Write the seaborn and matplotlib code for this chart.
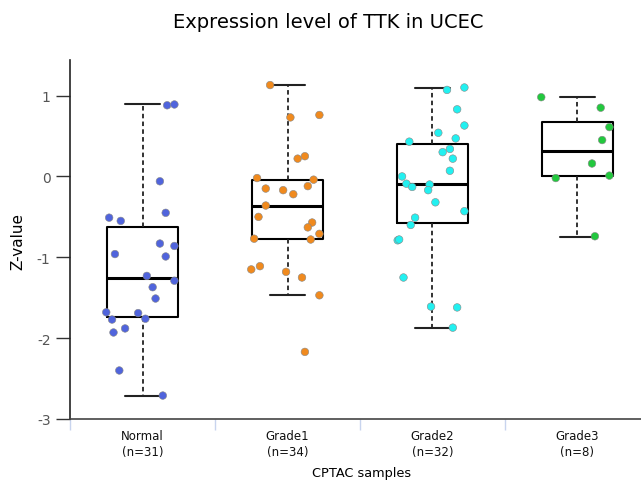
import matplotlib
matplotlib.use("Agg")
import matplotlib.pyplot as plt
import numpy as np
import pandas as pd
import seaborn as sns

# groups and labels
groups = ["Normal", "Grade1", "Grade2", "Grade3"]
group_counts = [31, 34, 32, 8]
group_colors = ["#5064dc", "#f08a1e", "#22f0f0", "#22c83e"]

# box statistics
box_q1 = [-1.74, -0.78, -0.58, 0.00]
box_median = [-1.26, -0.37, -0.09, 0.31]
box_q3 = [-0.62, -0.04, 0.40, 0.67]
box_low = [-2.72, -1.47, -1.87, -0.745]
box_high = [0.90, 1.135, 1.09, 0.98]

# visible sample points (jitter offset in category units, value)
normal_dx = [0.17, 0.22, 0.12, 0.16, -0.23, -0.15, 0.12, 0.22, -0.19, 0.16,
             0.03, 0.22, 0.07, 0.09, -0.25, -0.03, -0.21, 0.02, -0.12, -0.20,
             -0.16, 0.14]
normal_z = [0.88, 0.89, -0.06, -0.45, -0.51, -0.55, -0.83, -0.86, -0.96, -0.99,
            -1.23, -1.29, -1.37, -1.51, -1.68, -1.69, -1.77, -1.76, -1.88, -1.93,
            -2.40, -2.71]

grade1_dx = [-0.12, 0.02, 0.22, 0.07, 0.12, -0.21, 0.18, -0.15, -0.03, 0.04,
             0.14, -0.15, -0.20, 0.17, 0.14, 0.22, -0.23, 0.16, -0.25, -0.19,
             -0.01, 0.10, 0.22, 0.12]
grade1_z = [1.13, 0.73, 0.76, 0.22, 0.25, -0.02, -0.04, -0.15, -0.17, -0.22,
            -0.12, -0.36, -0.50, -0.57, -0.63, -0.71, -0.77, -0.78, -1.15, -1.11,
            -1.18, -1.25, -1.47, -2.17]

grade2_dx = [0.10, 0.22, 0.17, 0.22, 0.04, 0.16, -0.16, 0.12, 0.07, 0.14,
             0.12, -0.21, -0.18, -0.14, -0.02, -0.03, 0.02, 0.22, -0.12, -0.15,
             -0.24, -0.23, -0.20, -0.01, 0.17, 0.14]
grade2_z = [1.07, 1.10, 0.83, 0.63, 0.54, 0.47, 0.43, 0.34, 0.30, 0.22,
            0.07, 0.00, -0.09, -0.13, -0.10, -0.17, -0.32, -0.43, -0.51, -0.60,
            -0.79, -0.78, -1.25, -1.61, -1.62, -1.87]

grade3_dx = [-0.25, 0.16, 0.22, 0.17, 0.10, -0.15, 0.22, 0.12]
grade3_z = [0.98, 0.85, 0.61, 0.45, 0.16, -0.02, 0.01, -0.74]

frames = []
for name, dx, z in [("Normal", normal_dx, normal_z), ("Grade1", grade1_dx, grade1_z),
                    ("Grade2", grade2_dx, grade2_z), ("Grade3", grade3_dx, grade3_z)]:
    frames.append(pd.DataFrame({"group": name,
                                "pos": groups.index(name) + np.array(dx),
                                "z": z}))
df = pd.concat(frames, ignore_index=True)

sns.set_style("white")
plt.rcParams["font.family"] = ["DejaVu Sans"]
plt.rcParams["text.color"] = "black"

fig = plt.figure(figsize=(6.41, 4.81), dpi=100)
ax = fig.add_axes([70 / 641, 61 / 481, 580 / 641, 359 / 481])

stats = []
for i, g in enumerate(groups):
    stats.append({"med": box_median[i], "q1": box_q1[i], "q3": box_q3[i],
                  "whislo": box_low[i], "whishi": box_high[i], "fliers": []})
ax.bxp(stats, positions=range(len(groups)), widths=0.485, capwidths=0.24,
       showfliers=False,
       boxprops=dict(color="black", linewidth=1.5),
       medianprops=dict(color="black", linewidth=2.2),
       whiskerprops=dict(color="#222222", linewidth=1.3, linestyle=(0, (2.5, 1.8))),
       capprops=dict(color="#222222", linewidth=1.5))

sns.scatterplot(data=df, x="pos", y="z", hue="group", palette=group_colors,
                hue_order=groups, s=30, edgecolor="#888888", linewidth=0.4,
                legend=False, zorder=3, ax=ax)

ax.set_xlim(-0.5, 3.5)
ax.set_ylim(-3, 1.44)
ax.set_yticks([-3, -2, -1, 0, 1])
ax.set_yticklabels(["-3", "-2", "-1", "0", "1"], color="#555555", fontsize=10)
ax.tick_params(axis="y", direction="out", length=10, width=1, color="#333333", pad=4,
               left=True)

ax.set_xticks([-0.5, 0.5, 1.5, 2.5])
ax.set_xticklabels([])
ax.tick_params(axis="x", direction="out", length=8, width=1, color="#c8d4ee",
               bottom=True)
for i, g in enumerate(groups):
    ax.text(i, -3.12, f"{g}\n(n={group_counts[i]})", ha="center", va="top",
            fontsize=8.5, color="#111111", linespacing=1.35)

for side in ["top", "right"]:
    ax.spines[side].set_visible(False)
ax.spines["left"].set_color("#222222")
ax.spines["bottom"].set_color("#444444")
ax.spines["left"].set_linewidth(1.2)
ax.spines["bottom"].set_linewidth(1.2)

ax.set_xlabel("")
ax.set_ylabel("")
fig.text(18 / 641, 1 - 241 / 481, "Z-value", rotation=90, ha="center", va="center",
         fontsize=11, color="black")
fig.text(362 / 641, 1 - 474 / 481, "CPTAC samples", ha="center", va="center",
         fontsize=9.3, color="black")
fig.text(328 / 641, 1 - 22 / 481, "Expression level of TTK in UCEC", ha="center",
         va="center", fontsize=14, color="black")

fig.savefig("out.png", dpi=100)
